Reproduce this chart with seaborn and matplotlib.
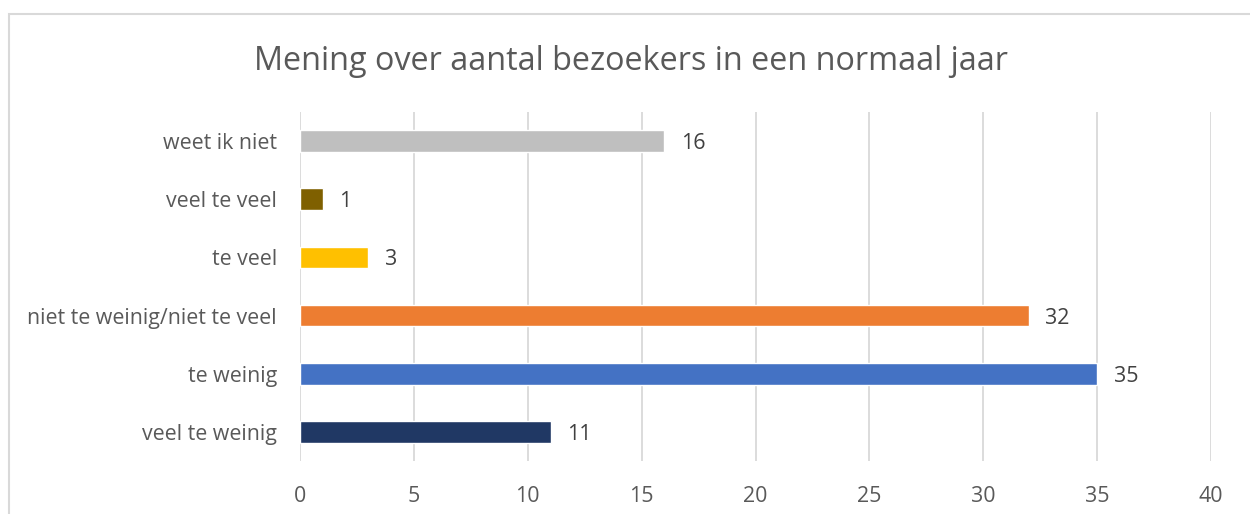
import matplotlib
matplotlib.use("Agg")
import matplotlib.pyplot as plt
import seaborn as sns
import pandas as pd
from matplotlib.patches import Rectangle

# data, top to bottom as shown in the chart
categories = ['weet ik niet', 'veel te veel', 'te veel',
              'niet te weinig/niet te veel', 'te weinig', 'veel te weinig']
counts = [16, 1, 3, 32, 35, 11]
colors = ['#BFBFBF', '#7F6000', '#FFC000', '#ED7D31', '#4472C4', '#203864']
ticks = [0, 5, 10, 15, 20, 25, 30, 35, 40]

df = pd.DataFrame({'categorie': categories, 'aantal': counts})

sns.set_style('white')
plt.rcParams['font.family'] = ['Open Sans', 'DejaVu Sans']

fig = plt.figure(figsize=(12.5, 5.14), dpi=100)
ax = fig.add_axes([0.24, 0.1031, 0.7288, 0.679])

sns.barplot(data=df, x='aantal', y='categorie', hue='categorie',
            palette=colors, order=categories, legend=False,
            width=0.37, saturation=1, ax=ax)

ax.set_xlim(0, 40)
ax.set_ylim(len(categories) - 0.5, -0.5)
ax.set_xticks(ticks)
ax.set_xticklabels([str(t) for t in ticks])
ax.grid(axis='x', color='#D9D9D9', linewidth=1.3)
ax.set_axisbelow(True)
for s in ax.spines.values():
    s.set_visible(False)
ax.tick_params(axis='both', length=0, colors='#595959', labelsize=15.4)
ax.tick_params(axis='x', pad=18)
ax.tick_params(axis='y', pad=16.5)
ax.set_xlabel('')
ax.set_ylabel('')

for i, v in enumerate(counts):
    ax.annotate(str(v), (v, i), xytext=(12, 0), textcoords='offset points',
                ha='left', va='center_baseline', fontsize=15.4, color='#404040')

fig.text(0.505, 0.881, 'Mening over aantal bezoekers in een normaal jaar',
         ha='center', va='center', fontsize=23.3, color='#595959')

# chart border
fig.patches.append(Rectangle((0.0072, -0.05), 1.1, 1.0228,
                             transform=fig.transFigure, fill=False,
                             edgecolor='#D9D9D9', linewidth=1.5))

fig.savefig('out.png', dpi=100)
